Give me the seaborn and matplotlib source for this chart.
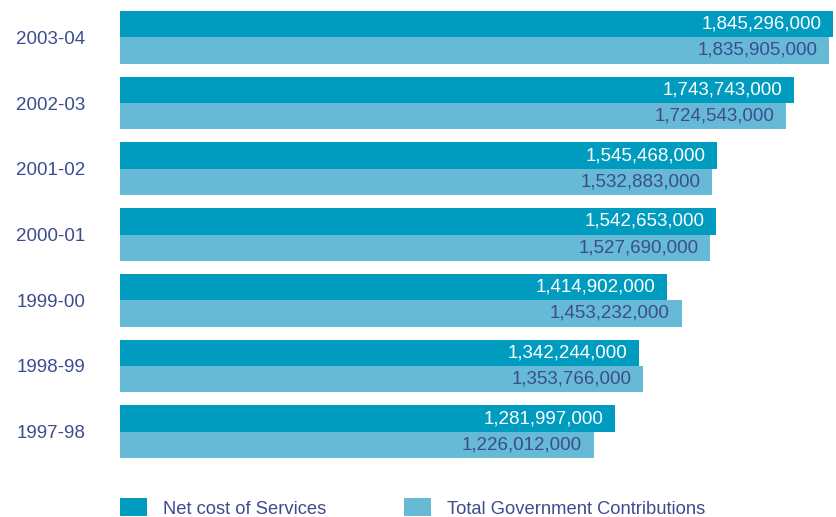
import numpy as np
import pandas as pd
import matplotlib
matplotlib.use("Agg")
import matplotlib.pyplot as plt
from matplotlib.patches import Patch
import seaborn as sns

years = ["2003-04", "2002-03", "2001-02", "2000-01", "1999-00", "1998-99", "1997-98"]
net_cost = [1845296000, 1743743000, 1545468000, 1542653000, 1414902000, 1342244000, 1281997000]
gov_contrib = [1835905000, 1724543000, 1532883000, 1527690000, 1453232000, 1353766000, 1226012000]
series_names = ["Net cost of Services", "Total Government Contributions"]

DARK = "#009CC0"
LIGHT = "#66BAD6"
TEXT = "#3D4C8F"

df = pd.DataFrame({
    "year": years * 2,
    "value": net_cost + gov_contrib,
    "series": [series_names[0]] * len(years) + [series_names[1]] * len(years),
})

sns.set_style("white")
plt.rcParams["font.family"] = ["Liberation Sans", "DejaVu Sans"]

fig = plt.figure(figsize=(8.36, 5.17), dpi=100)
ax = fig.add_axes([120 / 836, 1 - 458 / 517, 1 - 120 / 836, (458 - 11) / 517])

sns.barplot(data=df, y="year", x="value", hue="series", order=years,
            hue_order=series_names, palette=[DARK, LIGHT], saturation=1,
            width=0.8, orient="h", legend=False, ax=ax, linewidth=0)

# value labels inside bar ends
for container, col in zip(ax.containers, ["white", TEXT]):
    for p in container:
        w = p.get_width()
        yc = p.get_y() + p.get_height() / 2
        ax.annotate(f"{int(w):,}", (w, yc), xytext=(-8.5, 0), textcoords="offset points",
                    ha="right", va="center", color=col, fontsize=13.5)

ax.set_xlim(0, 1.8528e9)
ax.set_ylim(6.4, -0.4)
ax.set_xlabel("")
ax.set_ylabel("")
ax.set_xticks([])
ax.tick_params(axis="y", length=0, pad=25, labelsize=13.5, labelcolor=TEXT)
for s in ax.spines.values():
    s.set_visible(False)

handles = [Patch(facecolor=DARK, edgecolor="none"), Patch(facecolor=LIGHT, edgecolor="none")]
leg = fig.legend(handles, series_names, loc="center left",
                 bbox_to_anchor=(120 / 836, 1 - 508 / 517), ncol=2, frameon=False,
                 fontsize=13.2, handlelength=1.47, handleheight=1.12, handletextpad=0.87,
                 columnspacing=4.27, borderpad=0, borderaxespad=0)
for t in leg.get_texts():
    t.set_color(TEXT)

fig.savefig("out.png", dpi=100, facecolor="white")
